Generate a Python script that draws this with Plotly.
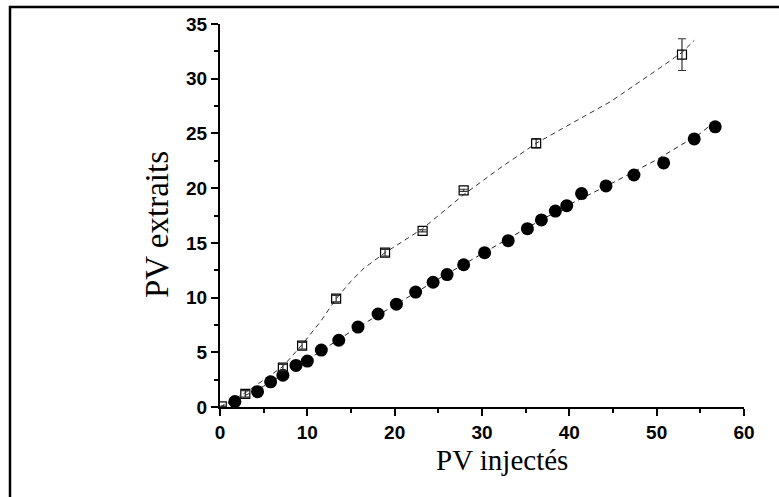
import plotly.graph_objects as go

# Filled circles (series 1)
circ_x = [1.7, 4.3, 5.8, 7.2, 8.7, 10.0, 11.6, 13.6, 15.8, 18.1, 20.2, 22.4, 24.4, 26.0,
          27.9, 30.3, 33.0, 35.2, 36.8, 38.4, 39.7, 41.4, 44.2, 47.4, 50.8, 54.3, 56.7]
circ_y = [0.5, 1.4, 2.3, 2.9, 3.8, 4.2, 5.2, 6.1, 7.3, 8.5, 9.4, 10.5, 11.4, 12.1,
          13.0, 14.1, 15.2, 16.3, 17.1, 17.9, 18.4, 19.5, 20.2, 21.2, 22.3, 24.5, 25.6]

# Open squares (series 2)
sq_x = [0.2, 2.9, 7.2, 9.4, 13.3, 18.9, 23.2, 27.9, 36.2, 52.9]
sq_y = [0.05, 1.2, 3.6, 5.6, 9.9, 14.1, 16.1, 19.8, 24.1, 32.2]
sq_err = [0, 0.3, 0.3, 0.3, 0.3, 0.3, 0.1, 0.1, 0.4, 1.45]

# Dashed fitted curves
fit1_x = [0, 2, 5, 10, 15, 20, 25, 30, 35, 40, 45, 50, 55, 57]
fit1_y = [0, 0.7, 1.9, 4.3, 6.9, 9.3, 11.7, 14.0, 16.3, 18.5, 20.5, 22.6, 25.0, 26.3]
fit2_x = [0, 2.9, 7.2, 9.4, 11.5, 13.3, 15.0, 16.5, 18.9, 23.2, 27.9, 32.0, 36.2, 44.7, 50.4, 52.9, 54.3]
fit2_y = [0, 1.3, 3.7, 5.7, 7.8, 9.9, 11.5, 12.7, 14.1, 16.3, 19.4, 21.8, 24.1, 27.9, 31.0, 32.4, 33.5]

x_title = "PV injectés"
y_title = "PV extraits"

W, H = 779, 497
L, R, T, B = 220, 35, 24, 90
pw, ph = W - L - R, H - T - B

def px_x(p):
    return (p - L) / pw

def px_y(p):
    return (H - B - p) / ph

fig = go.Figure()
fig.add_trace(go.Scatter(x=fit1_x, y=fit1_y, mode="lines",
                         line=dict(color="#222", width=1, dash="5px,4px"), showlegend=False))
fig.add_trace(go.Scatter(x=fit2_x, y=fit2_y, mode="lines",
                         line=dict(color="#333", width=1, dash="5px,4px"), showlegend=False))
fig.add_trace(go.Scatter(x=circ_x, y=circ_y, mode="markers",
                         marker=dict(symbol="circle", size=13, color="black"), showlegend=False))
fig.add_trace(go.Scatter(x=sq_x, y=sq_y, mode="markers",
                         marker=dict(symbol="square-open", size=9, color="black", line=dict(width=1.2)),
                         error_y=dict(type="data", array=sq_err, visible=True, color="#333",
                                      thickness=1.2, width=4),
                         showlegend=False))

axis_common = dict(showline=True, linecolor="black", linewidth=2, ticks="outside",
                   ticklen=7, tickwidth=2, tickcolor="black", showgrid=False, zeroline=False,
                   tickfont=dict(family="Liberation Sans", size=19, color="black", weight="bold"))

fig.update_xaxes(range=[0, 60], dtick=10, tick0=0,
                 minor=dict(dtick=5, ticks="outside", ticklen=4, tickwidth=2, tickcolor="black"),
                 **axis_common)
fig.update_yaxes(range=[0, 35], dtick=5, tick0=0,
                 minor=dict(dtick=2.5, ticks="outside", ticklen=4, tickwidth=2, tickcolor="black"),
                 **axis_common)

fig.add_annotation(text=x_title, xref="paper", yref="paper", x=px_x(502), y=px_y(460),
                   xanchor="center", yanchor="middle", showarrow=False,
                   font=dict(family="Liberation Serif", size=29, color="black"))
fig.add_annotation(text=y_title, xref="paper", yref="paper", x=px_x(157), y=px_y(225),
                   xanchor="center", yanchor="middle", showarrow=False, textangle=-90,
                   font=dict(family="Liberation Serif", size=33, color="black"))

fig.add_shape(type="rect", xref="paper", yref="paper",
              x0=px_x(10), x1=px_x(800), y0=px_y(520), y1=px_y(7),
              line=dict(color="black", width=2.5), fillcolor="rgba(0,0,0,0)", layer="above")

fig.update_layout(width=W, height=H, margin=dict(l=L, r=R, t=T, b=B),
                  plot_bgcolor="white", paper_bgcolor="white")

fig.write_html("out.html", config={"displayModeBar": False},
               post_script="document.body.style.margin='0';")
